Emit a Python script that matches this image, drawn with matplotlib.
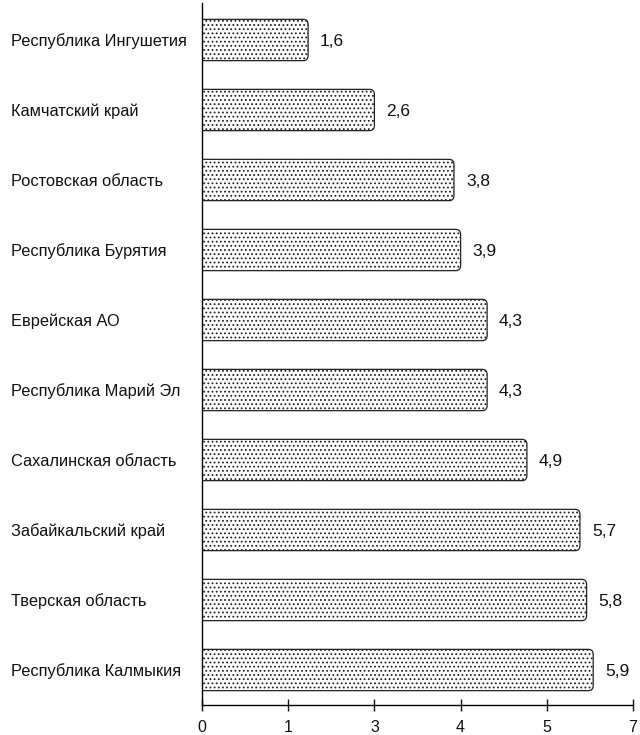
import matplotlib
matplotlib.use("Agg")
import matplotlib.pyplot as plt
from matplotlib.patches import FancyBboxPatch
from matplotlib.ticker import FuncFormatter
import numpy as np

plt.rcParams['font.family'] = ['Liberation Sans', 'DejaVu Sans']
plt.rcParams['hatch.linewidth'] = 0.8
plt.rcParams['hatch.color'] = '#3a3a3a'

regions = [
    "Республика Ингушетия",
    "Камчатский край",
    "Ростовская область",
    "Республика Бурятия",
    "Еврейская АО",
    "Республика Марий Эл",
    "Сахалинская область",
    "Забайкальский край",
    "Тверская область",
    "Республика Калмыкия",
]
values = [1.6, 2.6, 3.8, 3.9, 4.3, 4.3, 4.9, 5.7, 5.8, 5.9]
labels = ["1,6", "2,6", "3,8", "3,9", "4,3", "4,3", "4,9", "5,7", "5,8", "5,9"]

x_max = 6.5
x_step = 1.3

fig = plt.figure(figsize=(6.4, 7.35), dpi=100)
ax = fig.add_axes([202 / 640, 30 / 735, 431 / 640, 700 / 735])

y = np.arange(len(regions))
bars = ax.barh(y, values, height=0.59, visible=False)
ax.set_xlim(0, x_max)
ax.set_ylim(len(regions) - 0.5, -0.5)

# rounded-end bars built from the bar geometry
fig.canvas.draw()
px_x = x_max / ax.bbox.width
px_y = len(regions) / ax.bbox.height
r_px = 5
for b in bars:
    x0 = -0.3
    w = b.get_width() - x0
    patch = FancyBboxPatch(
        (x0, b.get_y()), w, b.get_height(),
        boxstyle=f"round,pad=0,rounding_size={r_px * px_x}",
        mutation_aspect=px_y / px_x,
        facecolor='white', edgecolor='#222222', linewidth=0.9,
        hatch='....', clip_on=True)
    ax.add_patch(patch)

for yi, v, lab in zip(y, values, labels):
    ax.annotate(lab, (v, yi), xytext=(12, -1), textcoords='offset pixels',
                va='center', ha='left', fontsize=12.5, color='#111111')

ax.set_yticks(y)
ax.set_yticklabels(regions, fontsize=11.8, ha='left', color='#111111')
ax.tick_params(axis='y', length=0, pad=(202 - 11) * 0.72)

ticks = np.arange(0, x_max + 1e-9, x_step)
ax.set_xticks(ticks)
ax.xaxis.set_major_formatter(FuncFormatter(lambda v, p: f"{v:.0f}" if v != 6.5 else "7"))
ax.tick_params(axis='x', direction='inout', length=9, width=1, labelsize=11.5,
               pad=6, colors='#111111')

for s in ['top', 'right']:
    ax.spines[s].set_visible(False)
ax.spines['left'].set_linewidth(1)
ax.spines['bottom'].set_linewidth(1)
ax.spines['left'].set_bounds(len(regions) - 0.5, -0.5 - 0.03)

fig.savefig("out.png", dpi=100)
